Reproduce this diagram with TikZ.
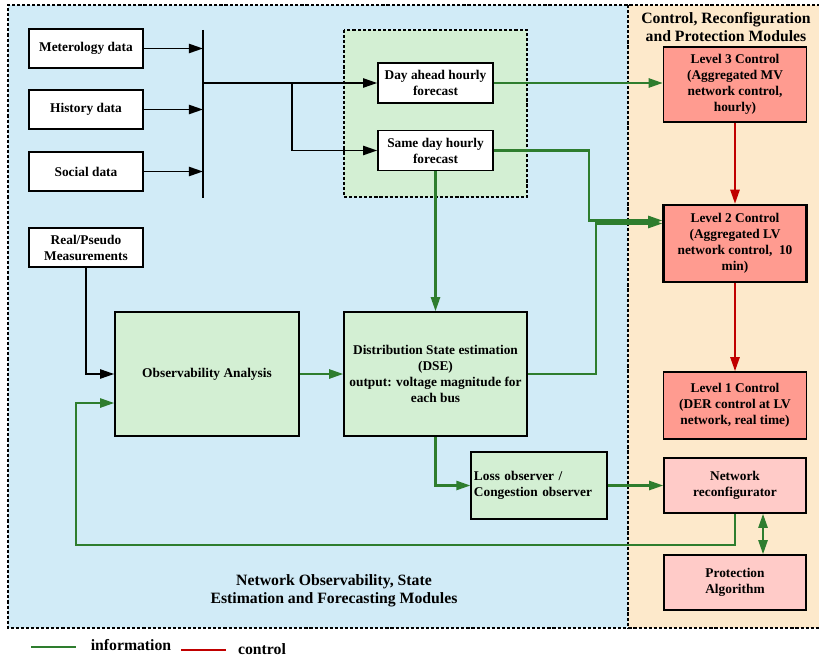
\documentclass[tikz,border=0pt]{standalone}
\usepackage{fontspec}
\setmainfont{Liberation Serif}
\usetikzlibrary{positioning, arrows.meta}

\definecolor{obsblue}{HTML}{D1EBF7}
\definecolor{ctrlorange}{HTML}{FDE9CB}
\definecolor{fcgreen}{HTML}{D3EFD3}
\definecolor{levelred}{HTML}{FF9B90}
\definecolor{reconfpink}{HTML}{FFCBC8}
\definecolor{infogreen}{HTML}{2E7D2E}
\definecolor{ctrlred}{HTML}{C00000}

\tikzset{
  block/.style={draw, line width=1.1pt, align=center, inner sep=1pt,
    font=\fontsize{9.5}{11.4}\selectfont\bfseries},
  databox/.style={block, fill=white, minimum width=2.85cm, minimum height=0.975cm},
  fcbox/.style={block, fill=white, minimum width=2.875cm, minimum height=1cm},
  levelbox/.style={block, fill=levelred, minimum width=3.575cm},
  pinkbox/.style={block, fill=reconfpink, minimum width=3.55cm, minimum height=1.375cm},
  greenbox/.style={block, fill=fcgreen},
  flow/.style={line width=1.3pt, -{Triangle[length=10pt,width=6.5pt]}},
  info/.style={flow, draw=infogreen, line width=1.5pt},
  ctrl/.style={flow, draw=ctrlred, line width=1.5pt},
  region/.style={line width=1.1pt, dash pattern=on 2.2pt off 1.4pt},
  heading/.style={align=center, font=\fontsize{11.2}{12.8}\selectfont\bfseries}
}

\begin{document}
\begin{tikzpicture}[x=0.025cm, y=-0.025cm]
\useasboundingbox (0,0) rectangle (819,656);

% draw the two module regions
\fill[obsblue] (8,5) rectangle (628,628);
\fill[ctrlorange] (628,5) rectangle (830,628);
\draw[region] (830,5) -- (8,5) -- (8,628) -- (830,628);
\draw[region] (628,5) -- (628,628);
\draw[region, fill=fcgreen] (344,30) rectangle (527,197);

\node[heading] (ctrl title) at (726,27) {Control, Reconfiguration\\and Protection Modules};
\node[heading] (obs title) at (334,591) {Network Observability, State\\Estimation and Forecasting Modules};

% data sources and bus
\node[databox] (meteo) at (86,48.5) {Meterology data};
\node[databox] (history) at (86,109.5) {History data};
\node[databox] (social) at (86,171.5) {Social data};
\coordinate (bus top) at (203,30);
\coordinate (bus bottom) at (203,198);
\draw[line width=1.2pt] (bus top) -- (bus bottom);

\foreach \src in {meteo,history,social}
\draw[flow] (\src.east) -- (\src.east -| bus top);

% forecasts
\node[fcbox] (dayahead) at (435.5,83) {Day ahead hourly\\forecast};
\node[fcbox] (sameday) at (435.5,150.5) {Same day hourly\\forecast};
\coordinate (split) at (292,83);
\draw[flow] (dayahead.west -| bus top) -- (dayahead.west);
\draw[flow] (split) |- (sameday.west);

% estimation
\node[databox] (meas) at (86,247.5) {Real/Pseudo\\Measurements};
\node[greenbox, minimum width=4.6cm, minimum height=3.1cm] (obs) at (207,374) {Observability Analysis};
\node[greenbox, minimum width=4.575cm, minimum height=3.1cm] (dse) at (435.5,374)
  {Distribution State estimation\\(DSE)\\output: voltage magnitude for\\each bus};
\node[greenbox, align=left, inner xsep=2pt, text width=3.25cm, minimum height=1.675cm] (loss) at (539,485.5)
  {Loss observer /\\Congestion observer};

% control, reconfiguration and protection
\node[levelbox, minimum height=1.875cm] (level3) at (735,84.5) {Level 3 Control\\(Aggregated MV\\network control,\\hourly)};
\node[levelbox, minimum height=1.925cm, line width=1.7pt] (level2) at (735,243.5) {Level 2 Control\\(Aggregated LV\\network control,~~10\\min)};
\node[levelbox, minimum height=1.675cm] (level1) at (735,405.5) {Level 1 Control\\(DER control at LV\\network, real time)};
\node[pinkbox] (reconf) at (735,485.5) {Network\\reconfigurator};
\node[pinkbox] (protect) at (735,582.5) {Protection\\Algorithm};

% draw connectors
\draw[flow] (meas.south) |- (obs.west);
\draw[info] (obs.east) -- (dse.west);
\draw[info] (sameday.south) -- (dse.north);
\draw[info] (dayahead.east) -- (dayahead.east -| level3.west);
\draw[info] (sameday.east) -- ++(95,0) |- ([yshift=0.575cm]level2.west);
\draw[info] (dse.east) -- ++(68,0) |- ([yshift=0.5cm]level2.west);
\draw[info] (dse.south) |- (loss.west);
\draw[info] (loss.east) -- (reconf.west);
\draw[info] (reconf.south) |- (76,545) |- ([yshift=-0.725cm]obs.west);
\draw[info, {Triangle[length=10pt,width=6.5pt]}-{Triangle[length=10pt,width=6.5pt]}]
  ([xshift=0.7cm]reconf.south) -- ([xshift=0.7cm]protect.north);
\draw[ctrl] (level3) -- (level2);
\draw[ctrl] (level2) -- (level1);

% legend
\coordinate (info key) at (31,647);
\coordinate (ctrl key) at (181,650);
\draw[infogreen, line width=2pt] (info key) -- ++(45,0);
\draw[ctrlred, line width=2pt] (ctrl key) -- ++(45,0);
\node[heading] (info label) at (131,645) {information};
\node[heading] (ctrl label) at (262,649) {control};
\end{tikzpicture}
\end{document}
